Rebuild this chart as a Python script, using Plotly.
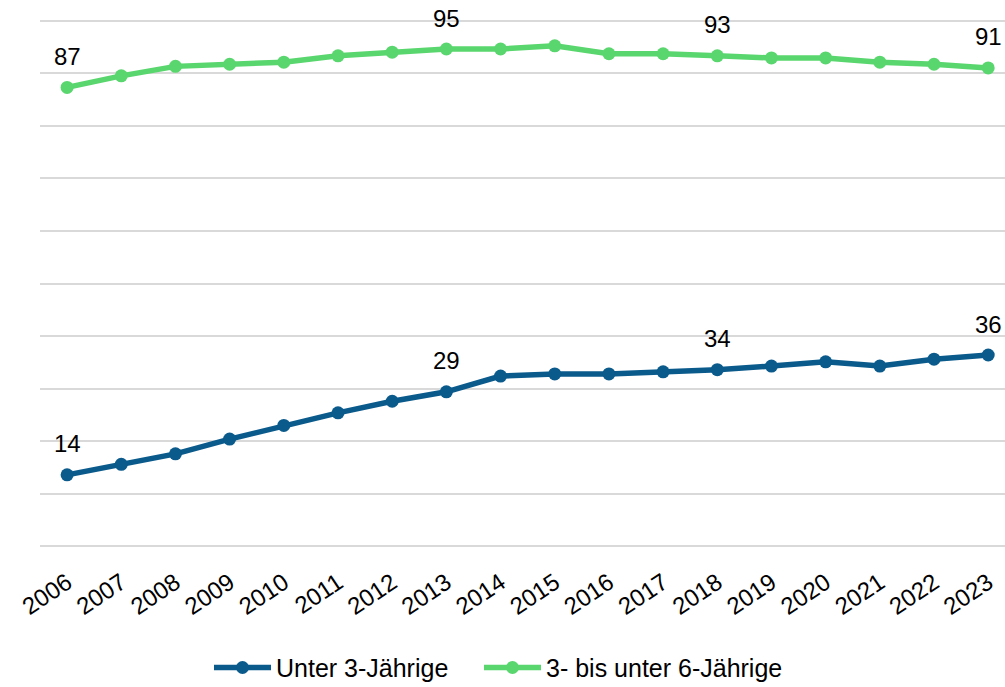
import plotly.graph_objects as go

# Betreuungsquoten in Prozent
years = [str(y) for y in range(2006, 2024)]
unter3 = [13.6, 15.6, 17.6, 20.4, 23.0, 25.4, 27.6, 29.4, 32.4, 32.8, 32.8,
          33.2, 33.6, 34.3, 35.1, 34.3, 35.6, 36.4]
drei_bis_sechs = [87.3, 89.5, 91.3, 91.7, 92.1, 93.3, 94.0, 94.6, 94.6, 95.2,
                  93.7, 93.7, 93.3, 92.9, 92.9, 92.1, 91.7, 91.0]
label_years = ["2006", "2013", "2018", "2023"]

BLUE = "#0a5a8c"
GREEN = "#5ad66e"
FONT = "Liberation Sans, Arial, sans-serif"

fig = go.Figure()

series = [
    ("Unter 3-Jährige", unter3, BLUE, "legend"),
    ("3- bis unter 6-Jährige", drei_bis_sechs, GREEN, "legend2"),
]
for name, values, color, leg in series:
    fig.add_trace(go.Scatter(
        x=years, y=values, name=name, legend=leg,
        mode="lines+markers",
        line=dict(color=color, width=5.5),
        marker=dict(color=color, size=13),
        hoverinfo="skip",
    ))
    # Datenbeschriftungen für ausgewählte Jahre (x als Kategorie-Index)
    for yr in label_years:
        i = years.index(yr)
        fig.add_annotation(
            x=i, y=values[i], text=str(round(values[i])),
            showarrow=False, yshift=31, yanchor="middle",
            font=dict(family=FONT, size=24, color="black"),
        )

# je Reihe eine eigene Legende, damit der Abstand wie im Original ist
legend_style = dict(
    orientation="h", xref="container", xanchor="left",
    yref="container", y=0.028, yanchor="middle",
    font=dict(size=25), itemwidth=57,
)

fig.update_layout(
    width=1005, height=687,
    plot_bgcolor="white", paper_bgcolor="white",
    margin=dict(l=40, r=0, t=18, b=138, autoexpand=False),
    font=dict(family=FONT, color="black"),
    showlegend=True,
    legend=dict(legend_style, x=209 / 1005),
    legend2=dict(legend_style, x=479 / 1005),
    xaxis=dict(
        type="category", range=[-0.5, 17.31], automargin=False,
        showgrid=False, zeroline=False, showline=False,
        tickangle=-34, tickfont=dict(size=24), ticks="",
        ticklabelstandoff=14,
    ),
    # Bereich leicht erweitert, damit die Gitterlinien bei 0 und 100 sichtbar sind
    yaxis=dict(
        range=[-0.5, 100.5], tick0=0, dtick=10, showticklabels=False,
        automargin=False, showgrid=True, gridcolor="#d9d9d9", gridwidth=1.5,
        zeroline=False, showline=False,
    ),
)

# Seitenrand des Browsers entfernen, damit die Grafik bündig sitzt
fig.write_html("out.html", config={"displayModeBar": False},
               post_script="document.body.style.margin='0';")
